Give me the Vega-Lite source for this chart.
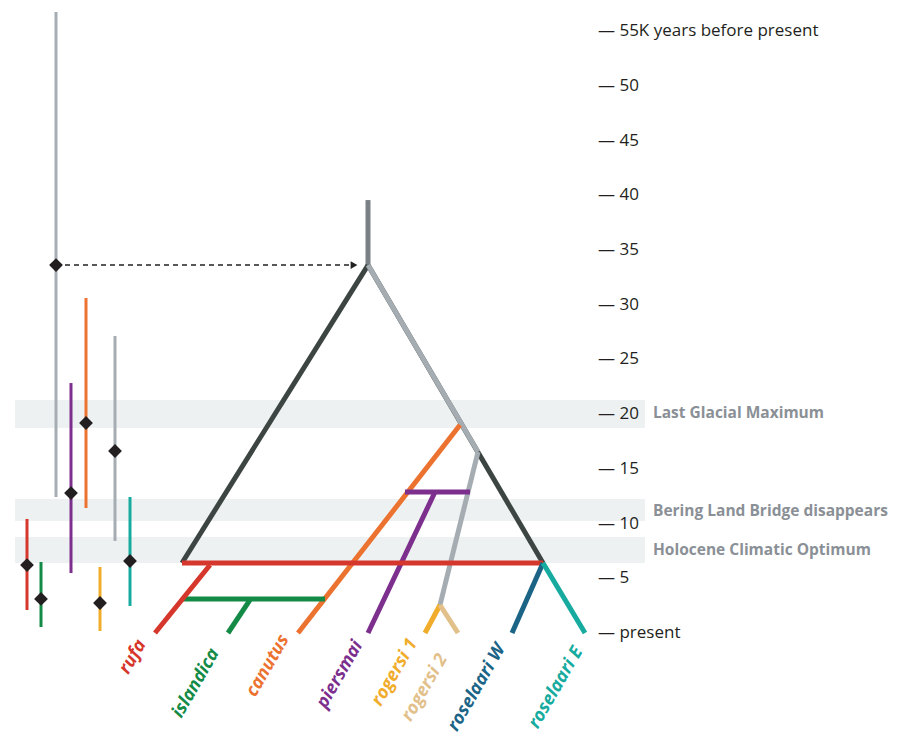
{
"$schema":"https://vega.github.io/schema/vega-lite/v6.json",
"width":914,"height":742,"padding":0,"autosize":{"type":"none"},
"config":{"view":{"stroke":null},"font":"Open Sans"},
"datasets":{
"bands":[{"x":15,"x2":645,"y":21.29,"y2":18.73},{"x":15,"x2":645,"y":12.24,"y2":10.23},{"x":15,"x2":645,"y":8.77,"y2":6.4}],
"segs":[
{"x":368,"y":39.56,"x2":368,"y2":33.62,"c":"#7b8085"},
{"x":368,"y":33.62,"x2":182,"y2":6.4,"c":"#3d4543"},
{"x":368,"y":33.62,"x2":543,"y2":6.4,"c":"#3d4543"},
{"x":368,"y":33.62,"x2":478,"y2":16.54,"c":"#a5adb3"},
{"x":460,"y":19.0,"x2":298,"y2":0,"c":"#ec7230"},
{"x":478,"y":16.54,"x2":440,"y2":2.56,"c":"#a5adb3"},
{"x":440,"y":2.56,"x2":425,"y2":0,"c":"#f0ac2a"},
{"x":440,"y":2.56,"x2":458,"y2":0,"c":"#e2c08a"},
{"x":405,"y":12.88,"x2":470,"y2":12.88,"c":"#7d2f8d"},
{"x":435,"y":12.88,"x2":368,"y2":0,"c":"#7d2f8d"},
{"x":182,"y":3.11,"x2":325,"y2":3.11,"c":"#138a45"},
{"x":250,"y":3.02,"x2":228,"y2":0,"c":"#138a45"},
{"x":182,"y":6.4,"x2":543,"y2":6.4,"c":"#d6372c"},
{"x":210,"y":6.21,"x2":155,"y2":0,"c":"#d6372c"},
{"x":543,"y":6.4,"x2":512,"y2":0,"c":"#1b6486"},
{"x":543,"y":6.4,"x2":585,"y2":0,"c":"#17aba0"}
],
"bars":[
{"x":56,"y":56.74,"y2":12.43,"d":33.62,"c":"#a5adb3"},
{"x":71,"y":22.84,"y2":5.48,"d":12.79,"c":"#7d2f8d"},
{"x":86,"y":30.61,"y2":11.42,"d":19.19,"c":"#ec7230"},
{"x":115,"y":27.14,"y2":8.41,"d":16.63,"c":"#a5adb3"},
{"x":130,"y":12.43,"y2":2.47,"d":6.58,"c":"#17aba0"},
{"x":27,"y":10.42,"y2":2.1,"d":6.21,"c":"#d6372c"},
{"x":41,"y":6.49,"y2":0.55,"d":3.11,"c":"#138a45"},
{"x":100,"y":6.03,"y2":0.18,"d":2.74,"c":"#f0ac2a"}
],
"ticks":[
{"y":55,"t":"— 55K years before present"},{"y":50,"t":"— 50"},{"y":45,"t":"— 45"},{"y":40,"t":"— 40"},{"y":35,"t":"— 35"},{"y":30,"t":"— 30"},{"y":25,"t":"— 25"},{"y":20,"t":"— 20"},{"y":15,"t":"— 15"},{"y":10,"t":"— 10"},{"y":5,"t":"— 5"},{"y":0,"t":"— present"}
],
"bandlab":[{"y":20.1,"t":"Last Glacial Maximum"},{"y":11.15,"t":"Bering Land Bridge disappears"},{"y":7.58,"t":"Holocene Climatic Optimum"}],
"species":[
{"x":133,"y":-2.2,"t":"rufa","c":"#d6372c"},
{"x":196,"y":-4.6,"t":"islandica","c":"#138a45"},
{"x":268,"y":-3.0,"t":"canutus","c":"#ec7230"},
{"x":340,"y":-3.8,"t":"piersmai","c":"#7d2f8d"},
{"x":395,"y":-3.6,"t":"rogersi 1","c":"#f0ac2a"},
{"x":425,"y":-5.0,"t":"rogersi 2","c":"#e2c08a"},
{"x":477,"y":-5.0,"t":"roselaari W","c":"#1b6486"},
{"x":556,"y":-5.0,"t":"roselaari E","c":"#17aba0"}
]
},
"encoding":{},
"layer":[
{"data":{"name":"bands"},"mark":{"type":"rect","color":"#eef1f2"},
 "encoding":{"x":{"field":"x","type":"quantitative","scale":{"domain":[0,914],"nice":false,"zero":false},"axis":null},"x2":{"field":"x2"},
 "y":{"field":"y","type":"quantitative","scale":{"domain":[-9.96,57.84],"nice":false,"zero":false},"axis":null},"y2":{"field":"y2"}}},
{"data":{"name":"segs"},"mark":{"type":"rule","strokeWidth":5},
 "encoding":{"x":{"field":"x","type":"quantitative"},"x2":{"field":"x2"},"y":{"field":"y","type":"quantitative"},"y2":{"field":"y2"},
 "color":{"field":"c","type":"nominal","scale":null}}},
{"data":{"values":[{"x":56,"x2":352,"y":33.62}]},"mark":{"type":"rule","strokeWidth":1.5,"strokeDash":[5,4],"color":"#222"},
 "encoding":{"x":{"field":"x","type":"quantitative"},"x2":{"field":"x2"},"y":{"field":"y","type":"quantitative"}}},
{"data":{"values":[{"x":354,"y":33.62}]},"mark":{"type":"point","shape":"triangle-right","filled":true,"size":60,"color":"#222","opacity":1},
 "encoding":{"x":{"field":"x","type":"quantitative"},"y":{"field":"y","type":"quantitative"}}},
{"data":{"name":"bars"},"mark":{"type":"rule","strokeWidth":3},
 "encoding":{"x":{"field":"x","type":"quantitative"},"y":{"field":"y","type":"quantitative"},"y2":{"field":"y2"},
 "color":{"field":"c","type":"nominal","scale":null}}},
{"data":{"name":"bars"},"mark":{"type":"point","shape":"diamond","filled":true,"size":190,"color":"#231f20","opacity":1},
 "encoding":{"x":{"field":"x","type":"quantitative"},"y":{"field":"d","type":"quantitative"}}},
{"data":{"name":"ticks"},"mark":{"type":"text","align":"left","baseline":"middle","fontSize":17,"color":"#231f20","x":598},
 "encoding":{"y":{"field":"y","type":"quantitative"},"text":{"field":"t"}}},
{"data":{"name":"bandlab"},"mark":{"type":"text","align":"left","baseline":"middle","fontSize":15.5,"fontWeight":"bold","color":"#8a9096","x":653},
 "encoding":{"y":{"field":"y","type":"quantitative"},"text":{"field":"t"}}},
{"data":{"name":"species"},"mark":{"type":"text","align":"center","baseline":"middle","fontSize":18,"fontWeight":"bold","fontStyle":"italic","angle":-60},
 "encoding":{"x":{"field":"x","type":"quantitative"},"y":{"field":"y","type":"quantitative"},"text":{"field":"t"},"color":{"field":"c","type":"nominal","scale":null}}}
]
}
